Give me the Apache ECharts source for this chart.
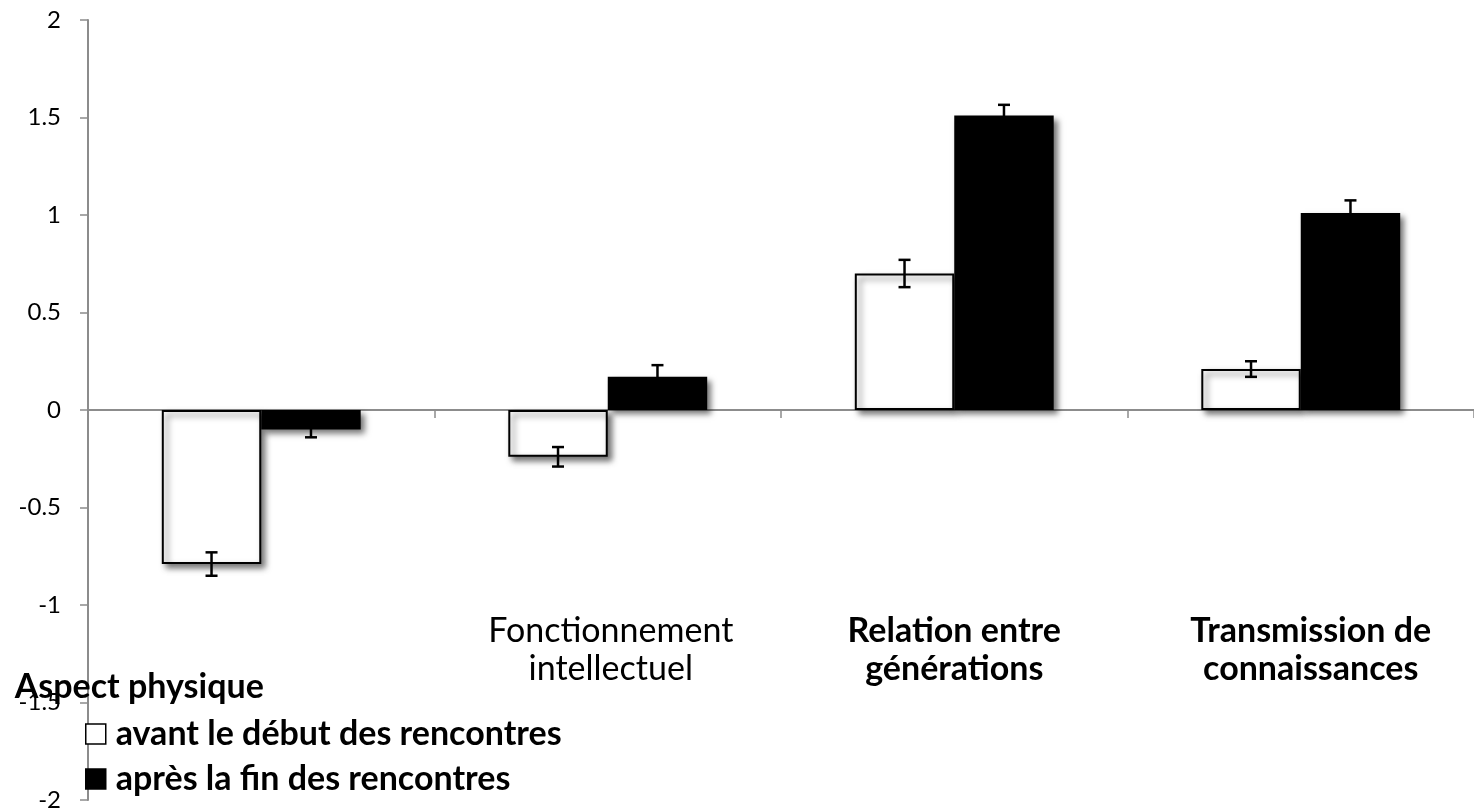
<!DOCTYPE html>
<html>
<head>
<meta charset="utf-8">
<script src="https://cdn.jsdelivr.net/npm/echarts@6/dist/echarts.min.js"></script>
<style>html,body{margin:0;padding:0;background:#fff;}#c{width:1474px;height:809px;}</style>
</head>
<body>
<div id="c"></div>
<script>
const categories = ['Aspect physique', 'Fonctionnement\nintellectuel', 'Relation entre\ngénérations', 'Transmission de\nconnaissances'];
const seriesNames = ['avant le début des rencontres', 'après la fin des rencontres'];
const avantValues = [-0.79, -0.24, 0.70, 0.21];
const avantErrors = [0.06, 0.05, 0.07, 0.04];
const apresValues = [-0.10, 0.17, 1.51, 1.01];
const apresErrors = [0.04, 0.06, 0.055, 0.065];
const yMin = -2, yMax = 2, yStep = 0.5;

const FONT = 'Lato';
const GAP = 0.426;
const labelKeys = ['a', 'n', 'b', 't'];

function errorSeries(values, errors, side) {
  return {
    type: 'custom',
    z: 5,
    silent: true,
    renderItem: function (params, api) {
      const i = api.value(0), v = api.value(1), e = api.value(2);
      const band = api.size([1, 0])[0];
      const bw = band * (1 - GAP) / 2;
      const base = api.coord([i, v]);
      const x = base[0] + side * bw / 2;
      const yt = api.coord([i, v + e])[1];
      const yb = api.coord([i, v - e])[1];
      const cap = 6;
      const st = { stroke: '#000', lineWidth: 2.5 };
      return {
        type: 'group',
        children: [
          { type: 'line', shape: { x1: x, y1: yt, x2: x, y2: yb }, style: st },
          { type: 'line', shape: { x1: x - cap, y1: yt, x2: x + cap, y2: yt }, style: st },
          { type: 'line', shape: { x1: x - cap, y1: yb, x2: x + cap, y2: yb }, style: st }
        ]
      };
    },
    data: values.map((v, i) => [i, v, errors[i]])
  };
}

const chart = echarts.init(document.getElementById('c'));
chart.setOption({
  animation: false,
  backgroundColor: '#fff',
  textStyle: { fontFamily: FONT },
  grid: { left: 88, right: 0, top: 20, bottom: 9, containLabel: false, outerBoundsMode: 'none' },
  legend: {
    orient: 'vertical',
    left: 85,
    top: 716,
    padding: 0,
    itemWidth: 20,
    itemHeight: 20,
    itemGap: 9,
    icon: 'rect',
    data: seriesNames,
    textStyle: { fontFamily: FONT, fontWeight: 'bold', fontSize: 34, lineHeight: 36, color: '#000', padding: [0, 0, 0, 5] },
    itemStyle: { shadowBlur: 0, shadowOffsetX: 0, shadowOffsetY: 0, shadowColor: 'rgba(0,0,0,0)', borderWidth: 1.5 }
  },
  xAxis: {
    type: 'category',
    data: categories,
    boundaryGap: true,
    axisLine: { onZero: true, lineStyle: { color: '#8c8c8c', width: 2 } },
    axisTick: { show: true, inside: false, length: 8, alignWithLabel: false, lineStyle: { color: '#8c8c8c', width: 1.5 } },
    splitLine: { show: false },
    axisLabel: {
      interval: 0,
      margin: -188,
      verticalAlign: 'top',
      formatter: function (value, idx) {
        const k = labelKeys[idx];
        return value.split('\n').map(l => '{' + k + '|' + l + '}').join('\n');
      },
      rich: {
        a: { fontFamily: FONT, fontWeight: 'bold', fontSize: 34, color: '#000', lineHeight: 38, padding: [112, 244, 0, 0] },
        n: { fontFamily: FONT, fontWeight: 'normal', fontSize: 34, color: '#000', lineHeight: 38, padding: [0, 0, 0, 6] },
        b: { fontFamily: FONT, fontWeight: 'bold', fontSize: 34, color: '#000', lineHeight: 38 },
        t: { fontFamily: FONT, fontWeight: 'bold', fontSize: 34, color: '#000', lineHeight: 38, padding: [0, 0, 0, 20] }
      }
    }
  },
  yAxis: {
    type: 'value',
    min: yMin,
    max: yMax,
    interval: yStep,
    axisLine: { show: true, lineStyle: { color: '#8c8c8c', width: 2 } },
    axisTick: { show: true, inside: false, length: 8, lineStyle: { color: '#8c8c8c', width: 1.5 } },
    splitLine: { show: false },
    axisLabel: { margin: 27, fontFamily: FONT, fontSize: 24, color: '#000' }
  },
  series: [
    {
      name: seriesNames[0],
      type: 'bar',
      data: avantValues,
      barGap: '0%',
      barCategoryGap: (GAP * 100) + '%',
      itemStyle: { color: '#fff', borderColor: '#000', borderWidth: 2, shadowBlur: 6, shadowOffsetX: 4, shadowOffsetY: 4, shadowColor: 'rgba(0,0,0,0.55)' }
    },
    {
      name: seriesNames[1],
      type: 'bar',
      data: apresValues,
      barGap: '0%',
      barCategoryGap: (GAP * 100) + '%',
      itemStyle: { color: '#000', borderColor: '#000', borderWidth: 0, shadowBlur: 6, shadowOffsetX: 4, shadowOffsetY: 4, shadowColor: 'rgba(0,0,0,0.55)' }
    },
    errorSeries(avantValues, avantErrors, -1),
    errorSeries(apresValues, apresErrors, 1)
  ]
});
</script>
</body>
</html>
